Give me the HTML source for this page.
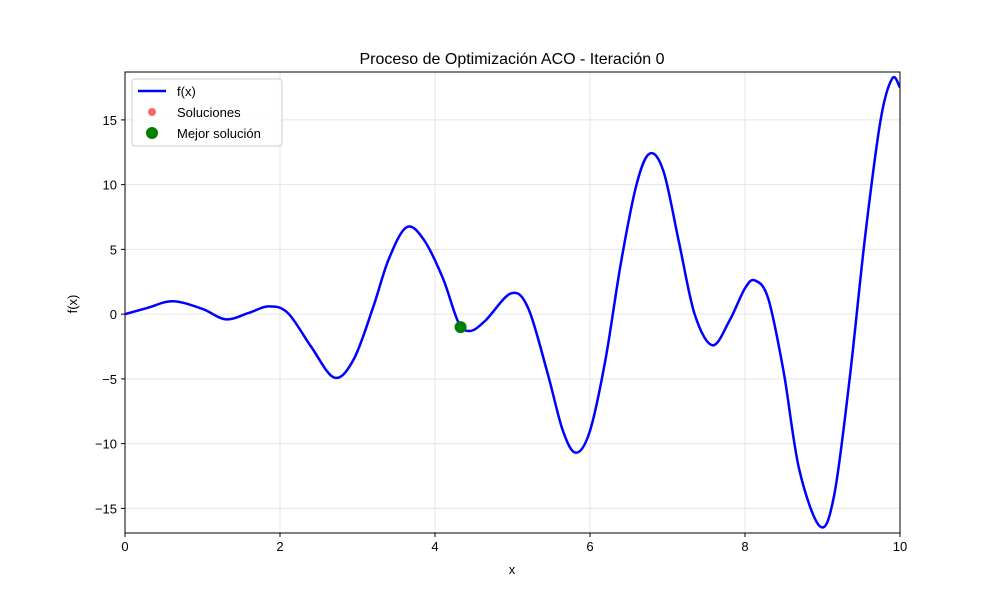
<!DOCTYPE html>
<html><head><meta charset="utf-8"><style>
body{margin:0;background:#fff}
svg text{font-family:"Liberation Sans","DejaVu Sans",sans-serif;fill:#000}
</style></head><body>
<svg id="chart" width="1000" height="600" xmlns="http://www.w3.org/2000/svg">
<rect width="1000" height="600" fill="#fff"/>
<g id="grid"></g>
<g id="axes"></g>
<g id="series"></g>
<text x="512" y="64" font-size="16" text-anchor="middle">Proceso de Optimización ACO - Iteración 0</text>
<text x="512" y="574" font-size="13" text-anchor="middle">x</text>
<text x="77" y="304" font-size="13" text-anchor="middle" transform="rotate(-90 77 304)">f(x)</text>
<g>
<rect x="132" y="79" width="150" height="67" rx="3" fill="#fff" fill-opacity="0.8" stroke="#ccc"/>
<g><line x1="138" y1="91" x2="166" y2="91" stroke="#0000ff" stroke-width="2.5"/><text x="177" y="96" font-size="13">f(x)</text></g>
<g><circle cx="152" cy="112" r="4" fill="#ff0000" fill-opacity="0.6"/><text x="177" y="117" font-size="13">Soluciones</text></g>
<g><circle cx="152" cy="133" r="6" fill="#008000"/><text x="177" y="138" font-size="13">Mejor solución</text></g>
</g>
</svg>
<script>
const xs=[0,0.3,0.62,1.0,1.3,1.6,1.85,2.1,2.4,2.7,2.95,3.2,3.4,3.63,3.85,4.1,4.3,4.45,4.65,4.98,5.2,5.45,5.65,5.82,6.0,6.2,6.4,6.6,6.77,6.95,7.15,7.35,7.58,7.8,8.0,8.13,8.3,8.5,8.7,8.97,9.15,9.35,9.55,9.75,9.9,10];
const ys=[0,0.5,1.0,0.4,-0.4,0.1,0.6,0.1,-2.5,-4.9,-3.5,0.5,4.2,6.7,5.8,2.8,-0.6,-1.3,-0.5,1.6,0.5,-4.5,-9.0,-10.7,-9.0,-3.5,4.0,10.0,12.4,11.0,5.5,0.0,-2.4,-0.5,2.0,2.6,1.2,-4.5,-12.0,-16.4,-14.0,-5.0,6.0,15.0,18.2,17.5];
const bestX=[4.33], bestY=[-1.0];
const xTicks=[0,2,4,6,8,10];
const yTicks=[-15,-10,-5,0,5,10,15];
const L=125,R=900,T=72,B=533,xMin=0,xMax=10,yMin=-16.9,yMax=18.7;
const sx=v=>L+(v-xMin)/(xMax-xMin)*(R-L);
const sy=v=>B-(v-yMin)/(yMax-yMin)*(B-T);
const NS="http://www.w3.org/2000/svg";
function mk(tag,attrs,parent){const e=document.createElementNS(NS,tag);for(const k in attrs)e.setAttribute(k,attrs[k]);parent.appendChild(e);return e;}
const grid=document.getElementById('grid'),axes=document.getElementById('axes'),series=document.getElementById('series');
xTicks.forEach(t=>{const x=sx(t);
 const g=mk('line',{x1:x,y1:T,x2:x,y2:B,stroke:'#e5e5e5','stroke-width':1},grid);
 
 
 mk('line',{x1:x,y1:B,x2:x,y2:B+4,stroke:'#000'},axes);
 const tx=mk('text',{x:x,y:B+18,'font-size':13,'text-anchor':'middle'},axes);tx.textContent=t;
 
 });
yTicks.forEach(t=>{const y=sy(t);
 const g=mk('line',{x1:L,y1:y,x2:R,y2:y,stroke:'#e5e5e5','stroke-width':1},grid);
 
 
 mk('line',{x1:L-4,y1:y,x2:L,y2:y,stroke:'#000'},axes);
 const tx=mk('text',{x:L-8,y:y+5,'font-size':13,'text-anchor':'end'},axes);tx.textContent=(t<0?'\u2212'+(-t):t);
 
 });
const fr=mk('rect',{x:L,y:T,width:R-L,height:B-T,fill:'none',stroke:'#000','stroke-width':1},axes);


const P=xs.map((x,i)=>[sx(x),sy(ys[i])]);
let d='M'+P[0][0]+','+P[0][1];
for(let i=0;i<P.length-1;i++){const p0=P[Math.max(i-1,0)],p1=P[i],p2=P[i+1],p3=P[Math.min(i+2,P.length-1)];
 const c1=[p1[0]+(p2[0]-p0[0])/6,p1[1]+(p2[1]-p0[1])/6],c2=[p2[0]-(p3[0]-p1[0])/6,p2[1]-(p3[1]-p1[1])/6];
 d+=` C${c1[0]},${c1[1]} ${c2[0]},${c2[1]} ${p2[0]},${p2[1]}`;}
const cp=mk('clipPath',{id:'clip'},series);mk('rect',{x:L,y:T,width:R-L,height:B-T},cp);
const line=mk('path',{d:d,fill:'none',stroke:'#0000ff','stroke-width':2.5,'clip-path':'url(#clip)'},series);


bestX.forEach((x,i)=>{const c=mk('circle',{cx:sx(x),cy:sy(bestY[i]),r:6,fill:'#008000'},series);
 
 });
</script>
</body></html>
